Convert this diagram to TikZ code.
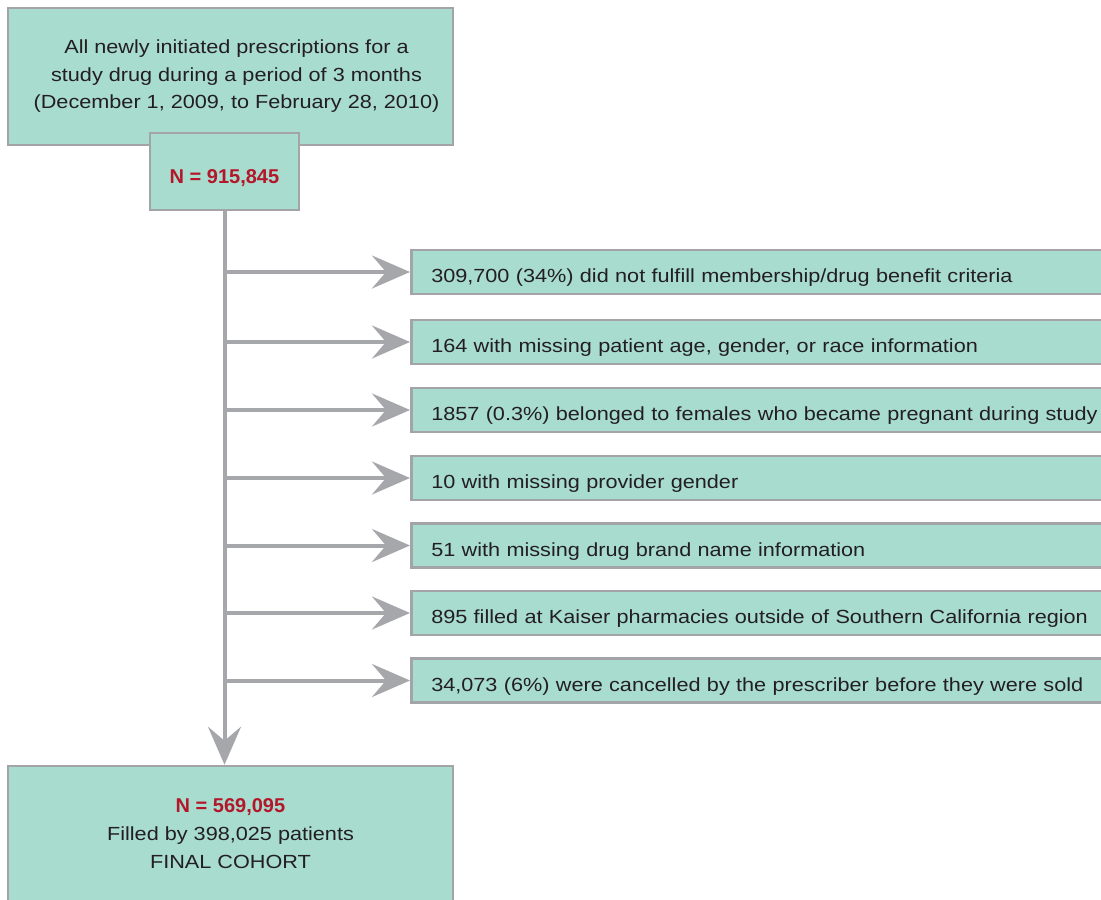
\documentclass[tikz,border=0pt]{standalone}
\usepackage{fontspec}
\setmainfont[FakeStretch=1.14]{Liberation Sans}
\newfontfamily\nfam{Liberation Sans}
\usetikzlibrary{arrows.meta}
\definecolor{boxfill}{HTML}{A8DCCF}
\definecolor{boxline}{HTML}{A3A4A7}
\definecolor{arrowgray}{HTML}{A6A7AA}
\definecolor{nred}{HTML}{B3172A}
\definecolor{txt}{HTML}{231F20}
\begin{document}
\begin{tikzpicture}[x=1pt,y=-1pt,
  box/.style={draw=boxline, line width=2.5pt, fill=boxfill, text=txt,
    font=\fontsize{19}{27.5}\selectfont, inner sep=0pt},
  excl/.style={box, anchor=west, minimum height=44pt, text width=700pt,
    align=left, inner xsep=20pt, text height=21pt, text depth=0pt},
  flow/.style={draw=arrowgray, line width=4pt,
    -{Stealth[length=38pt,width=33pt,inset=14pt]}},
  ncount/.style={text=nred, font=\fontsize{20}{27.5}\nfam\bfseries}]
\clip (0,0) rectangle (1101,900);
\node[box, minimum width=445pt, minimum height=137pt, align=center] (src) at (230.5,76.5)
  {\hspace*{12pt}All newly initiated prescriptions for a\\\hspace*{12pt}study drug during a period of 3 months\\\hspace*{12pt}(December 1, 2009, to February 28, 2010)};
\node[box, ncount, minimum width=149pt, minimum height=77pt, text height=23pt, text depth=0pt] (n0) at (224.5,171.5) {N = 915,845};
\node[box, minimum width=445pt, minimum height=136pt, align=center, font=\fontsize{19}{28}\selectfont] (final) at (230.5,834)
  {{\color{nred}\fontsize{20}{28}\nfam\bfseries N = 569,095}\\Filled by 398,025 patients\\FINAL COHORT};
\node[excl] (e1) at (410,272) {309,700 (34\%) did not fulfill membership/drug benefit criteria};
\node[excl] (e2) at (410,342) {164 with missing patient age, gender, or race information};
\node[excl] (e3) at (410,410) {1857 (0.3\%) belonged to females who became pregnant during study};
\node[excl] (e4) at (410,478) {10 with missing provider gender};
\node[excl] (e5) at (410,545.5) {51 with missing drug brand name information};
\node[excl] (e6) at (410,613) {895 filled at Kaiser pharmacies outside of Southern California region};
\node[excl] (e7) at (410,680.5) {34,073 (6\%) were cancelled by the prescriber before they were sold};
\draw[flow] (n0.south) -- (n0.south |- final.north);
\foreach \e in {e1,e2,e3,e4,e5,e6,e7}
  \draw[flow] (n0.south |- \e.west) -- (\e.west);
\end{tikzpicture}
\end{document}
